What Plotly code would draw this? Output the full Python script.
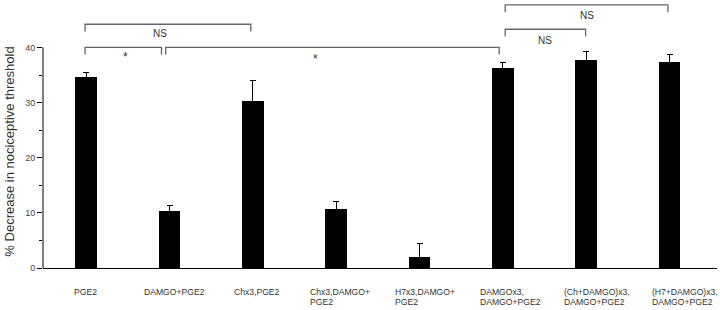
import plotly.graph_objects as go

# ---- data ----
categories = ["PGE2", "DAMGO+PGE2", "Chx3,PGE2", "Chx3,DAMGO+\nPGE2", "H7x3,DAMGO+\nPGE2",
              "DAMGOx3,\nDAMGO+PGE2", "(Ch+DAMGO)x3,\nDAMGO+PGE2", "(H7+DAMGO)x3,\nDAMGO+PGE2"]
values = [34.6, 10.4, 30.2, 10.7, 2.0, 36.2, 37.8, 37.4]
errors = [0.8, 1.0, 3.8, 1.3, 2.5, 1.1, 1.4, 1.4]
y_ticks = [0, 10, 20, 30, 40]
y_minor = [5, 15, 25, 35]
y_title = "% Decrease in nociceptive threshold"

# significance brackets: (x start, x end, height, label, label x, label y)
bracket_x0 = [-0.014, -0.014, 0.954, 5.028, 5.028]
bracket_x1 = [1.975, 0.903, 4.956, 6.981, 5.993]
bracket_y = [44.2, 40.0, 40.0, 47.7, 43.3]
bracket_labels = ["NS", "*", "*", "NS", "NS"]
label_x = [0.88, 0.474, 2.755, 6.01, 5.50]
label_y = [42.6, 38.2, 37.9, 45.8, 41.3]

# ---- style ----
label_shift = [-14, -28, -21, -28, -27, -25, -24, -20]
drop = 1.3
x = list(range(len(categories)))

fig = go.Figure()
fig.add_trace(go.Bar(
    x=x, y=values, width=0.26,
    marker=dict(color="black", line=dict(width=0)),
    error_y=dict(type="data", array=errors, symmetric=True, color="black",
                 thickness=1, width=3),
    showlegend=False, hoverinfo="skip",
))

shapes = []
# y-axis line 0..40
shapes.append(dict(type="line", xref="paper", yref="y", x0=0, x1=0, y0=0, y1=40,
                   line=dict(color="black", width=1)))
for x0, x1, yb in zip(bracket_x0, bracket_x1, bracket_y):
    shapes.append(dict(type="path", xref="x", yref="y",
                       path=f"M {x0},{yb - drop} L {x0},{yb} L {x1},{yb} L {x1},{yb - drop}",
                       line=dict(color="#666666", width=1.3)))

annotations = []
for lab, lx, ly in zip(bracket_labels, label_x, label_y):
    annotations.append(dict(x=lx, y=ly, xref="x", yref="y", text=lab, showarrow=False,
                            font=dict(size=12 if lab == "*" else 10, color="#333333",
                                      family="Liberation Sans")))
for i, (cat, sh) in enumerate(zip(categories, label_shift)):
    for j, line in enumerate(cat.split("\n")):
        annotations.append(dict(x=i, y=0, xref="x", yref="y", text=line, showarrow=False,
                                xanchor="left", yanchor="middle", xshift=sh,
                                yshift=-23.5 - 10 * j,
                                font=dict(size=8.6, color="#333333", family="Liberation Sans")))
annotations.append(dict(x=0, y=21.1, xref="paper", yref="y", text=y_title, showarrow=False,
                        textangle=-90, xanchor="center", yanchor="middle", xshift=-33,
                        font=dict(size=13, color="#333333", family="Liberation Sans")))

fig.update_layout(
    width=720, height=310,
    margin=dict(l=43, r=3, t=0, b=42),
    plot_bgcolor="white", paper_bgcolor="white",
    font=dict(family="Liberation Sans", color="#333333"),
    shapes=shapes, annotations=annotations,
    xaxis=dict(range=[-0.519, 7.57], showgrid=False, zeroline=False, showticklabels=False,
               ticks="", showline=True, linecolor="black", linewidth=1),
    yaxis=dict(range=[0, 48.6], showgrid=False, zeroline=False, showline=False,
               tickvals=y_ticks, ticks="outside", ticklen=5, tickwidth=1, tickcolor="black",
               tickfont=dict(size=9, color="#444444"),
               minor=dict(tickvals=y_minor, ticks="outside", ticklen=3, tickcolor="black",
                          tickwidth=1, showgrid=False)),
    bargap=0,
)

fig.write_html("out.html", config={"displayModeBar": False},
               post_script="document.body.style.margin='0';document.body.style.overflow='hidden';")
